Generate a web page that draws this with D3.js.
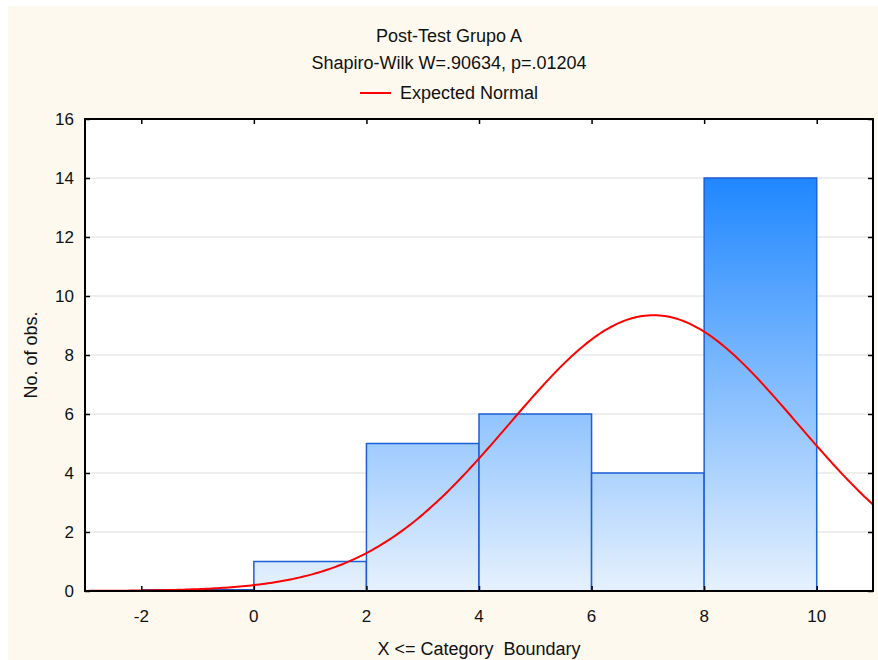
<!DOCTYPE html>
<html>
<head>
<meta charset="utf-8">
<script src="https://cdn.jsdelivr.net/npm/d3@7"></script>
<style>
  html, body { margin: 0; padding: 0; background: #ffffff; }
  text { font-family: "Liberation Sans", Arial, sans-serif; fill: #111; }
</style>
</head>
<body>
<div id="app"></div>
<script>
// histogram bins (upper boundary X <= b) and counts
const binStarts = [-2, 0, 2, 4, 6, 8];
const binEnds = [0, 2, 4, 6, 8, 10];
const counts = [0, 1, 5, 6, 4, 14];

// expected normal fit
const normalMean = 7.1;
const normalSd = 2.56;
const sampleSize = 30;
const binWidth = 2;

const xTicks = [-2, 0, 2, 4, 6, 8, 10];
const yTicks = [0, 2, 4, 6, 8, 10, 12, 14, 16];

const title = "Post-Test Grupo A";
const subtitle = "Shapiro-Wilk W=.90634, p=.01204";
const legendLabel = "Expected Normal";
const xLabel = "X <= Category  Boundary";
const yLabel = "No. of obs.";

const width = 878;
const height = 660;
const margin = { top: 119, right: 5, bottom: 69, left: 85 };

const svg = d3
  .select("#app")
  .append("svg")
  .attr("width", width)
  .attr("height", height)
  .style("display", "block");

// cream panel
svg.append("rect")
  .attr("x", 8).attr("y", 6)
  .attr("width", width - 8).attr("height", height - 6)
  .attr("fill", "#fdf9ef");

const x = d3.scaleLinear().domain([-3, 11]).range([margin.left, width - margin.right]);
const y = d3.scaleLinear().domain([0, 16]).range([height - margin.bottom, margin.top]);

// plot background
svg.append("rect")
  .attr("x", x(-3)).attr("y", y(16))
  .attr("width", x(11) - x(-3)).attr("height", y(0) - y(16))
  .attr("fill", "#ffffff");

const defs = svg.append("defs");
const grad = defs.append("linearGradient")
  .attr("id", "barGrad")
  .attr("gradientUnits", "userSpaceOnUse")
  .attr("x1", 0).attr("x2", 0)
  .attr("y1", y(14)).attr("y2", y(0));
grad.append("stop").attr("offset", "0%").attr("stop-color", "#1f87ff");
grad.append("stop").attr("offset", "100%").attr("stop-color", "#e6f1fd");

defs.append("clipPath").attr("id", "plotClip")
  .append("rect")
  .attr("x", x(-3)).attr("y", y(16))
  .attr("width", x(11) - x(-3)).attr("height", y(0) - y(16));

// grid lines
svg.append("g")
  .selectAll("line")
  .data(yTicks.filter(d => d > 0 && d < 16))
  .join("line")
  .attr("x1", x(-3)).attr("x2", x(11))
  .attr("y1", d => y(d)).attr("y2", d => y(d))
  .attr("stroke", "#dcdcdc")
  .attr("stroke-width", 1);

// bars
const bins = counts.map((c, i) => ({ x0: binStarts[i], x1: binEnds[i], n: c }));
svg.append("g")
  .selectAll("path")
  .data(bins)
  .join("path")
  .attr("d", d => {
    const p = d3.path();
    p.moveTo(x(d.x0), y(0));
    p.lineTo(x(d.x0), y(d.n));
    p.lineTo(x(d.x1), y(d.n));
    p.lineTo(x(d.x1), y(0));
    return p.toString();
  })
  .attr("fill", "url(#barGrad)")
  .attr("stroke", "#1d5fd6")
  .attr("stroke-width", 1.5);

// zero-height bin shows as a blue line on the baseline
svg.append("g")
  .selectAll("line")
  .data(bins.filter(d => d.n === 0))
  .join("line")
  .attr("x1", d => x(d.x0)).attr("x2", d => x(d.x1))
  .attr("y1", y(0) - 1).attr("y2", y(0) - 1)
  .attr("stroke", "#1d4fb0")
  .attr("stroke-width", 2);

// expected normal curve
const expected = v =>
  sampleSize * binWidth * Math.exp(-0.5 * ((v - normalMean) / normalSd) ** 2) /
  (normalSd * Math.sqrt(2 * Math.PI));
const curveX = d3.range(-3, 11.001, 0.05);
svg.append("path")
  .datum(curveX)
  .attr("clip-path", "url(#plotClip)")
  .attr("fill", "none")
  .attr("stroke", "#ff0000")
  .attr("stroke-width", 2)
  .attr("d", d3.line().x(d => x(d)).y(d => y(expected(d))));

// frame with inward ticks on all sides
const tickLen = 5;
svg.append("g")
  .attr("transform", `translate(0,${y(0)})`)
  .call(d3.axisTop(x).tickValues(xTicks).tickSize(tickLen).tickFormat(""))
  .call(g => g.select(".domain").remove());
svg.append("g")
  .attr("transform", `translate(0,${y(16)})`)
  .call(d3.axisBottom(x).tickValues(xTicks).tickSize(tickLen).tickFormat(""))
  .call(g => g.select(".domain").remove());
svg.append("g")
  .attr("transform", `translate(${x(-3)},0)`)
  .call(d3.axisRight(y).tickValues(yTicks).tickSize(tickLen).tickFormat(""))
  .call(g => g.select(".domain").remove());
svg.append("g")
  .attr("transform", `translate(${x(11)},0)`)
  .call(d3.axisLeft(y).tickValues(yTicks).tickSize(tickLen).tickFormat(""))
  .call(g => g.select(".domain").remove());
svg.selectAll(".tick line").attr("stroke", "#000").attr("stroke-width", 1.5);

svg.append("rect")
  .attr("x", x(-3)).attr("y", y(16))
  .attr("width", x(11) - x(-3)).attr("height", y(0) - y(16))
  .attr("fill", "none")
  .attr("stroke", "#000")
  .attr("stroke-width", 2);

// tick labels
svg.append("g")
  .selectAll("text")
  .data(xTicks)
  .join("text")
  .attr("x", d => x(d))
  .attr("y", y(0) + 31)
  .attr("text-anchor", "middle")
  .style("font-size", "17px")
  .text(d => d);
svg.append("g")
  .selectAll("text")
  .data(yTicks)
  .join("text")
  .attr("x", x(-3) - 11)
  .attr("y", d => y(d) + 6)
  .attr("text-anchor", "end")
  .style("font-size", "17px")
  .text(d => d);

// titles
svg.append("text")
  .attr("x", 449).attr("y", 42)
  .attr("text-anchor", "middle")
  .style("font-size", "18px")
  .text(title);
svg.append("text")
  .attr("x", 449).attr("y", 69)
  .attr("text-anchor", "middle")
  .style("font-size", "18px")
  .text(subtitle);

// legend
const legend = svg.append("g").attr("transform", "translate(360,93)");
legend.append("line")
  .attr("x1", 0).attr("x2", 31)
  .attr("stroke", "#ff0000").attr("stroke-width", 2);
legend.append("text")
  .attr("x", 40).attr("y", 6)
  .style("font-size", "18px")
  .text(legendLabel);

// axis titles
svg.append("text")
  .attr("x", (x(-3) + x(11)) / 2).attr("y", 655)
  .attr("text-anchor", "middle")
  .style("font-size", "18px")
  .style("white-space", "pre")
  .text(xLabel);
svg.append("text")
  .attr("transform", `translate(37,${(y(0) + y(16)) / 2}) rotate(-90)`)
  .attr("text-anchor", "middle")
  .style("font-size", "18px")
  .text(yLabel);
</script>
</body>
</html>
